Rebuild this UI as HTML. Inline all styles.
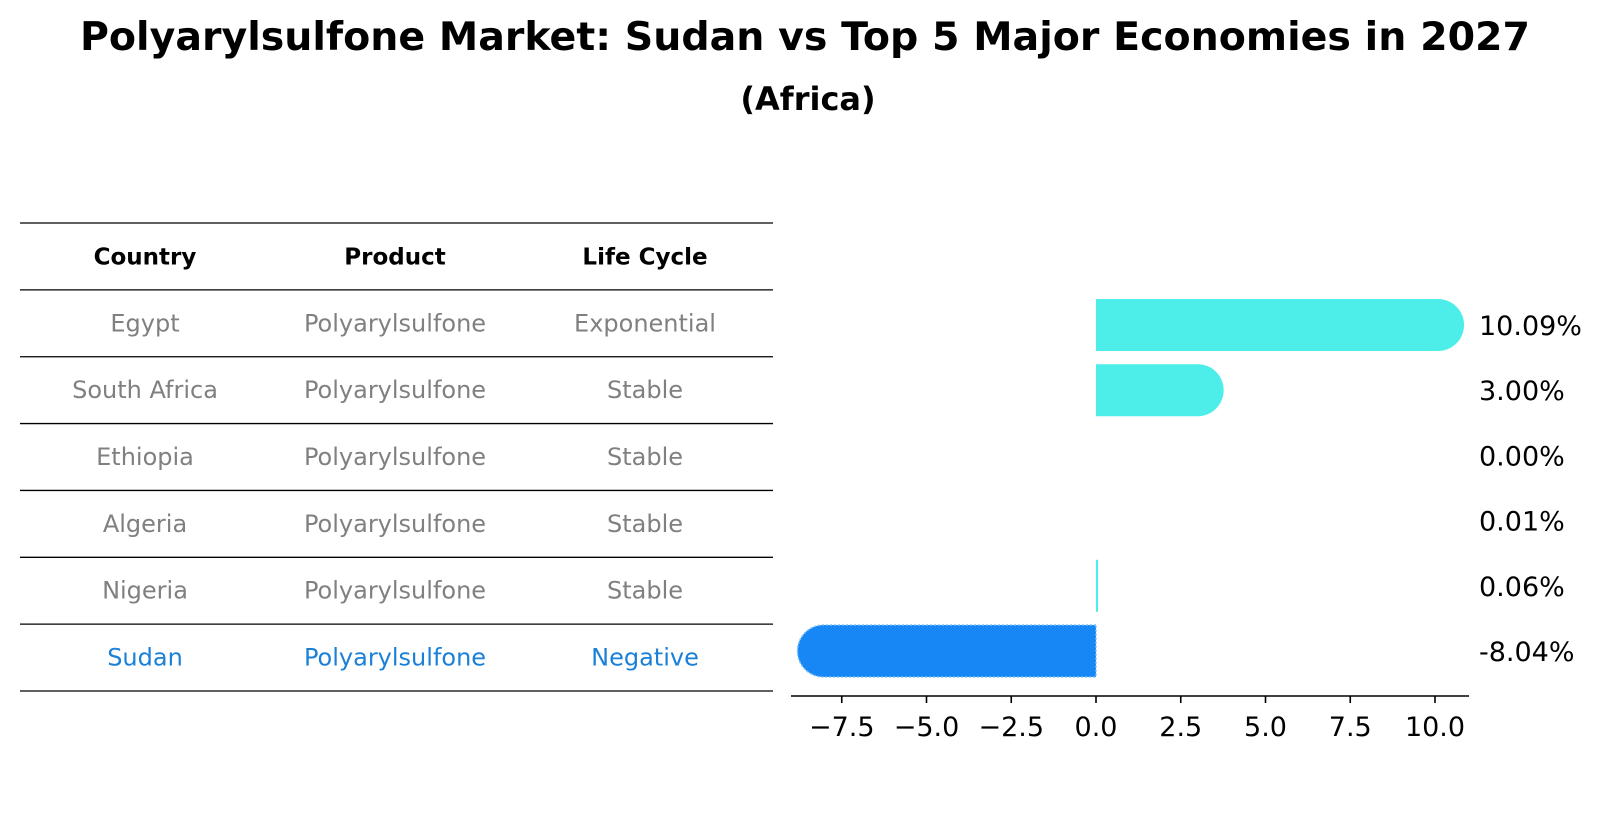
<!DOCTYPE html>
<html><head><meta charset="utf-8"><style>
body{margin:0;background:#fff}
svg{display:block;font-family:"DejaVu Sans","Liberation Sans",sans-serif}
</style></head><body>
<svg id="chart" width="1604" height="823" viewBox="0 0 1604 823" xmlns="http://www.w3.org/2000/svg">
<text x="805" y="50" text-anchor="middle" font-size="39.5" font-weight="bold">Polyarylsulfone Market: Sudan vs Top 5 Major Economies in 2027</text>
<text x="808" y="110" text-anchor="middle" font-size="32" font-weight="bold">(Africa)</text>
<g id="table"></g>
<g id="bars"></g>
</svg>
<script>
const countries = ["Egypt","South Africa","Ethiopia","Algeria","Nigeria","Sudan"];
const products = ["Polyarylsulfone","Polyarylsulfone","Polyarylsulfone","Polyarylsulfone","Polyarylsulfone","Polyarylsulfone"];
const lifeCycles = ["Exponential","Stable","Stable","Stable","Stable","Negative"];
const values = [10.09,3.00,0.00,0.01,0.06,-8.04];
const valueLabels = ["10.09%","3.00%","0.00%","0.01%","0.06%","-8.04%"];
const tickValues = [-7.5,-5.0,-2.5,0.0,2.5,5.0,7.5,10.0];
const tickLabels = ["\u22127.5","\u22125.0","\u22122.5","0.0","2.5","5.0","7.5","10.0"];

const NS="http://www.w3.org/2000/svg";
function mk(tag,attrs,parent){const e=document.createElementNS(NS,tag);for(const k in attrs)e.setAttribute(k,attrs[k]);parent.appendChild(e);return e;}

const tbl=document.getElementById('table');
const lineY0=223, rowH=66.86, colX=[145,395,645];
for(let i=0;i<=7;i++){
  const l=mk('line',{x1:20,x2:773,y1:lineY0+i*rowH,y2:lineY0+i*rowH,stroke:'#000','stroke-width':1.3},tbl);
  
  
}
const headers=["Country","Product","Life Cycle"];
headers.forEach((h,j)=>{
  const t=mk('text',{x:colX[j],y:lineY0+rowH/2+8,'text-anchor':'middle','font-size':23,'font-weight':'bold'},tbl);
  t.textContent=h;
  
  
});
countries.forEach((c,i)=>{
  const y=lineY0+(i+1.5)*rowH+8;
  const col=c==="Sudan"?"#1a80d8":"#808080";
  [c,products[i],lifeCycles[i]].forEach((v,j)=>{
    const t=mk('text',{x:colX[j],y:y,'text-anchor':'middle','font-size':24,fill:col},tbl);
    t.textContent=v;
    
    
  });
});

const g=document.getElementById('bars');
const x0=1096, scale=33.9;
const xs=v=>x0+v*scale;
const rowY0=325, rowStep=65.2, barH=52, r=26;
values.forEach((v,i)=>{
  const cy=rowY0+i*rowStep, top=cy-barH/2;
  const color=v<0?"#1787f5":"#4deeea";
  const w=Math.abs(xs(v)-x0);
  const nm='bar-'+countries[i].toLowerCase().replace(/ /g,'-');
  if(w>r){
    const sweep=v>=0?1:0;
    const d=`M${x0},${top} H${xs(v)} A${r},${r} 0 0 ${sweep} ${xs(v)},${top+barH} H${x0} Z`;
    const p=mk('path',{d:d,fill:color},g);
    if(v<0){p.setAttribute('stroke','#7fc0f8');p.setAttribute('stroke-width','1.5');p.setAttribute('stroke-dasharray','2 2');}
    
    
  } else if(w>=1){
    const p=mk('rect',{x:Math.min(x0,xs(v)),y:top,width:w,height:barH,fill:color},g);
    
    
  }
  const t=mk('text',{x:1479,y:cy+10,'font-size':27,fill:'#000'},g);
  t.textContent=valueLabels[i];
  
  
});
const ax=mk('line',{x1:791,x2:1469,y1:696,y2:696,stroke:'#000','stroke-width':1.6},g);


tickValues.forEach((tv,i)=>{
  const tk=mk('line',{x1:xs(tv),x2:xs(tv),y1:696,y2:703,stroke:'#000','stroke-width':1.6},g);
  
  
  const t=mk('text',{x:xs(tv),y:736,'text-anchor':'middle','font-size':27},g);
  t.textContent=tickLabels[i];
  
  
});
</script>
</body></html>
